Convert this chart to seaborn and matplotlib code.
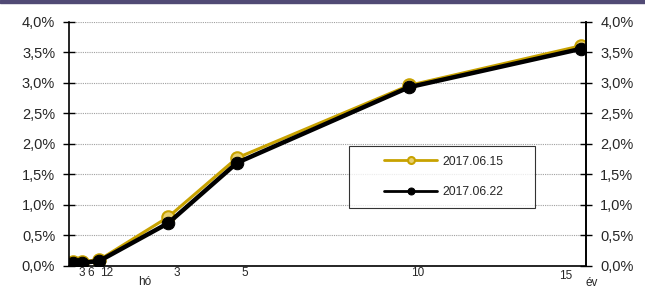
import matplotlib
matplotlib.use("Agg")
import matplotlib.pyplot as plt
from matplotlib.legend_handler import HandlerLine2D
import numpy as np
import pandas as pd
import seaborn as sns

# maturities in years (3, 6, 12 months, then 3, 5, 10, 15 years)
maturity = [0.25, 0.5, 1, 3, 5, 10, 15]
yield_0615 = [0.07, 0.07, 0.10, 0.80, 1.77, 2.96, 3.61]
yield_0622 = [0.05, 0.05, 0.08, 0.70, 1.69, 2.93, 3.56]
labels = ["2017.06.15", "2017.06.22"]
yticks = [0.0, 0.5, 1.0, 1.5, 2.0, 2.5, 3.0, 3.5, 4.0]
ytick_labels = [f"{v:.1f}%".replace(".", ",") for v in yticks]

sns.set_style("white")
plt.rcParams["font.family"] = ["Liberation Sans", "DejaVu Sans"]

df = pd.DataFrame({"maturity": maturity, "y1": yield_0615, "y2": yield_0622})

fig = plt.figure(figsize=(6.45, 2.89), dpi=100)
ax = fig.add_axes([0.107, 0.080, 0.802, 0.844])

gold = "#c8a200"
sns.lineplot(data=df, x="maturity", y="y1", ax=ax, color=gold, linewidth=2.2,
             marker="o", markersize=9, markerfacecolor="#e8d070",
             markeredgecolor=gold, markeredgewidth=1.5, label=labels[0])
sns.lineplot(data=df, x="maturity", y="y2", ax=ax, color="black", linewidth=3.2,
             marker="o", markersize=9, markerfacecolor="black",
             markeredgecolor="black", label=labels[1])

ax.set_xlim(0.12, 15.15)
ax.set_ylim(0, 4.0)
ax.set_yticks(yticks)
ax.set_yticklabels(ytick_labels, fontsize=10.5)
ax.set_xticks([])
ax.set_xlabel("")
ax.set_ylabel("")
ax.yaxis.grid(True, color="#a0a0a0", linestyle=(0, (1, 1)), linewidth=0.8)
ax.set_axisbelow(True)
ax.tick_params(axis="y", direction="inout", length=8, width=1, color="black", pad=6)
for s in ["left", "bottom"]:
    ax.spines[s].set_color("black")
    ax.spines[s].set_linewidth(1.2)
ax.spines["top"].set_visible(False)
ax.spines["right"].set_color("black")
ax.spines["right"].set_linewidth(1.2)

ax2 = ax.twinx()
ax2.set_ylim(0, 4.0)
ax2.set_yticks(yticks)
ax2.set_yticklabels(ytick_labels, fontsize=10.5)
ax2.tick_params(axis="y", direction="inout", length=8, width=1, color="black", pad=6)
ax2.spines["top"].set_visible(False)
ax2.spines["left"].set_visible(False)
ax2.spines["bottom"].set_visible(False)
ax2.spines["right"].set_color("black")
ax2.spines["right"].set_linewidth(1.2)

# hand-placed x labels like in the original
xl = [("3", 82, 273), ("6", 91, 273), ("12", 107, 273), ("hó", 145, 282),
      ("3", 177, 273), ("5", 245, 273), ("10", 418, 273), ("15", 566, 276),
      ("év", 592, 283)]
for t, px, py in xl:
    fig.text(px / 645, 1 - py / 289, t, fontsize=8.5, ha="center", va="center")

leg = ax.legend(loc="upper left", bbox_to_anchor=(0.5416, 0.25, 0.360, 0.242),
                mode="expand", borderaxespad=0, frameon=True, fancybox=False,
                fontsize=8.7, handlelength=6.5, borderpad=0.8, labelspacing=1.55,
                handletextpad=0.4,
                handler_map={ln: HandlerLine2D(xpad=2.07) for ln in ax.get_lines()})
leg.get_frame().set_edgecolor("black")
leg.get_frame().set_linewidth(0.8)
for h in leg.legend_handles:
    h.set_markersize(5)
    h.set_linewidth(2)

# dark strip at the top
fig.patches.append(plt.Rectangle((0, 1 - 3 / 289), 1, 3 / 289, transform=fig.transFigure,
                                 color="#514a75", zorder=10))

fig.savefig("out.png", dpi=100)
